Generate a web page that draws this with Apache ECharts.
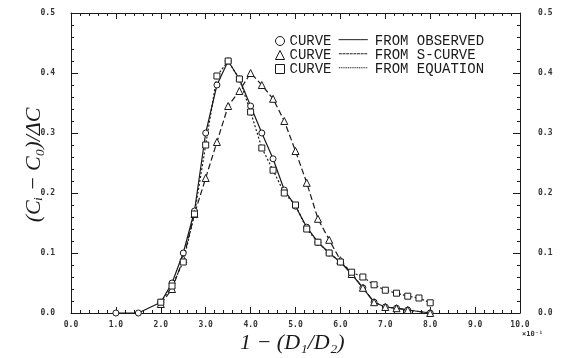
<!DOCTYPE html>
<html>
<head>
<meta charset="utf-8">
<script src="https://cdn.jsdelivr.net/npm/echarts@6/dist/echarts.min.js"></script>
<style>html,body{margin:0;padding:0;background:#fff}#c{width:568px;height:358px}</style>
</head>
<body>
<div id="c"></div>
<script>
var xTicks = [0,1,2,3,4,5,6,7,8,9,10];
var yTicks = [0,0.1,0.2,0.3,0.4,0.5];
var legendNames = ['FROM OBSERVED','FROM S-CURVE','FROM EQUATION'];

var obsX = [1.0,1.5,2.0,2.25,2.5,2.75,3.0,3.25,3.5,3.75,4.0,4.25,4.5,4.75,5.0,5.25,5.5,5.75,6.0,6.25,6.5,6.75,7.0,7.25,7.5,8.0];
var obsY = [0,0,0.018,0.05,0.10,0.17,0.30,0.38,0.42,0.39,0.345,0.30,0.257,0.205,0.178,0.143,0.118,0.10,0.085,0.065,0.042,0.018,0.01,0.008,0.005,0.0];

var sX = [2.0,2.25,2.5,2.75,3.0,3.25,3.5,3.75,4.0,4.25,4.5,4.75,5.0,5.25,5.5,5.75,6.0,6.25,6.5,6.75,7.0,7.25,7.5,8.0];
var sY = [0.015,0.04,0.09,0.165,0.225,0.285,0.345,0.37,0.40,0.38,0.357,0.32,0.27,0.217,0.157,0.122,0.088,0.065,0.042,0.018,0.01,0.008,0.005,0.0];

var eqX = [2.0,2.25,2.5,2.75,3.0,3.25,3.5,3.75,4.0,4.25,4.5,4.75,5.0,5.25,5.5,5.75,6.0,6.25,6.5,6.75,7.0,7.25,7.5,7.75,8.0];
var eqY = [0.018,0.045,0.085,0.165,0.28,0.395,0.42,0.39,0.335,0.275,0.238,0.20,0.18,0.14,0.118,0.10,0.085,0.068,0.06,0.047,0.038,0.033,0.028,0.025,0.017];

function pairs(xs, ys){ return xs.map(function(x,i){ return [x, ys[i]]; }); }

var ink = '#1a1a1a';
var tickLabel = {fontSize: 8, fontWeight: 'bold', fontFamily: 'DejaVu Sans Mono', color: '#333'};

function xAx(pos, showLabel){
  return {
    type: 'value', position: pos, min: xTicks[0], max: xTicks[xTicks.length-1], interval: 1,
    axisLine: {show: true, onZero: false, lineStyle: {color: ink, width: 1}},
    axisTick: {show: true, inside: true, length: 6, lineStyle: {color: ink}},
    minorTick: {show: true, splitNumber: 5, length: 3, lineStyle: {color: ink}},
    splitLine: {show: false},
    axisLabel: Object.assign({show: showLabel, margin: 8, formatter: function(v){ return v.toFixed(1); }}, tickLabel)
  };
}
function yAx(pos, margin){
  return {
    type: 'value', position: pos, min: yTicks[0], max: yTicks[yTicks.length-1], interval: 0.1,
    axisLine: {show: true, onZero: false, lineStyle: {color: ink, width: 1}},
    axisTick: {show: true, inside: true, length: 7, lineStyle: {color: ink}},
    minorTick: {show: true, splitNumber: 5, length: 3, lineStyle: {color: ink}},
    splitLine: {show: false},
    axisLabel: Object.assign({margin: margin, formatter: function(v){ return v.toFixed(1); }}, tickLabel)
  };
}

var markerStyle = {color: '#fff', borderColor: ink, borderWidth: 1};

var chart = echarts.init(document.getElementById('c'), null, {renderer: 'canvas'});
chart.setOption({
  backgroundColor: '#fff',
  animation: false,
  grid: {left: 71, right: 48, top: 13, bottom: 45},
  xAxis: [xAx('bottom', true), xAx('top', false)],
  yAxis: [yAx('left', 16), yAx('right', 18)],
  legend: {
    orient: 'vertical', left: 270, top: 29, itemGap: 0, itemWidth: 9, itemHeight: 9,
    data: [
      {name: legendNames[0], icon: 'circle', itemStyle: markerStyle},
      {name: legendNames[1], icon: 'triangle', itemStyle: markerStyle},
      {name: legendNames[2], icon: 'rect', itemStyle: markerStyle}
    ],
    textStyle: {fontFamily: 'DejaVu Sans Mono', fontSize: 12, color: ink, lineHeight: 12,
      rich: {c: {fontFamily: 'Liberation Mono', fontSize: 14, color: ink, lineHeight: 12}}},
    formatter: function(n){
      var s = n === legendNames[0] ? '────' : (n === legendNames[1] ? '╌╌╌╌' : '┈┈┈┈');
      return '{c|CURVE} ' + s + ' {c|' + n + '}';
    }
  },
  series: [
    {name: legendNames[0], type: 'line', data: pairs(obsX, obsY), symbol: 'circle', symbolSize: 6, showAllSymbol: true,
      lineStyle: {color: ink, width: 1.2}, itemStyle: markerStyle},
    {name: legendNames[1], type: 'line', data: pairs(sX, sY), symbol: 'triangle', symbolSize: 7, showAllSymbol: true,
      lineStyle: {color: ink, width: 1.2, type: [6,3]}, itemStyle: markerStyle},
    {name: legendNames[2], type: 'line', data: pairs(eqX, eqY), symbol: 'rect', symbolSize: 6, showAllSymbol: true,
      lineStyle: {color: ink, width: 1.2, type: [2,2]}, itemStyle: markerStyle}
  ],
  graphic: [
    {type: 'text', left: 240, top: 332,
      style: {text: '1 − (D₁/D₂)', font: 'italic 22px "Liberation Serif"', fill: ink}},
    {type: 'text', x: 34, y: 165, rotation: Math.PI/2,
      style: {text: '(Cᵢ − C₀)/ΔC', font: 'italic 22px "Liberation Serif"', fill: ink, align: 'center', verticalAlign: 'middle'}},
    {type: 'text', left: 522, top: 331,
      style: {text: '×10⁻¹', font: 'bold 7px "DejaVu Sans Mono"', fill: '#333'}}
  ]
});
</script>
</body>
</html>
